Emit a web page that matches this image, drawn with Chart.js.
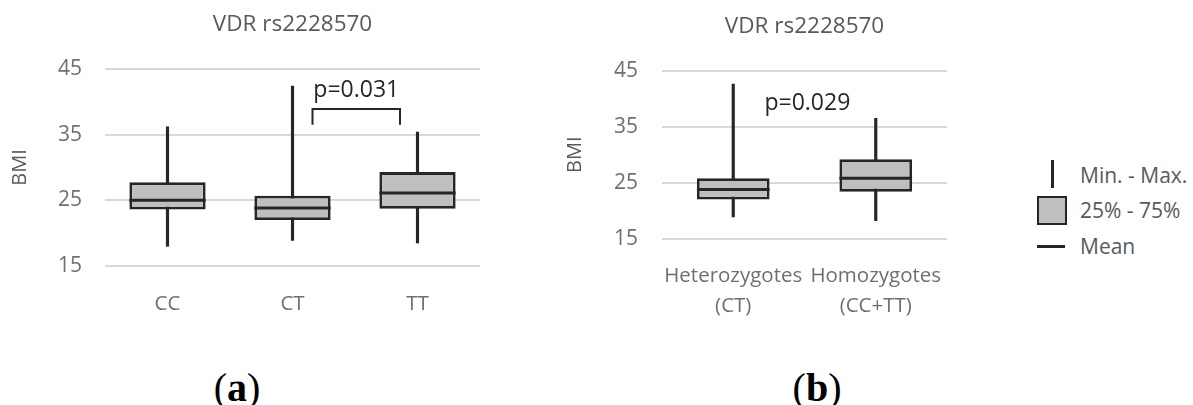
<!DOCTYPE html>
<html>
<head>
<meta charset="utf-8">
<script src="https://cdn.jsdelivr.net/npm/chart.js@4.4.1/dist/chart.umd.min.js"></script>
<style>
    body { margin: 0; background: #fff; width: 1193px; height: 405px; position: relative; overflow: hidden; font-family: "Open Sans", sans-serif; }
    canvas { position: absolute; top: 0; }
    #chartA { left: 0; }
    #chartB { left: 540px; }
    .leg-text { position: absolute; left: 1080px; font-size: 21px; line-height: 26px; color: #595959; white-space: nowrap; }
    .leg-mark { position: absolute; background: #262626; }
    .leg-box { position: absolute; box-sizing: border-box; border: 2.5px solid #262626; background: #bfbfbf; }
    .panel-label { position: absolute; width: 100px; text-align: center; font-family: "Liberation Serif", "DejaVu Serif", serif; font-size: 40px; line-height: 44px; color: #000; }
</style>
</head>
<body>
<canvas id="chartA" width="500" height="320"></canvas>
<canvas id="chartB" width="430" height="320"></canvas>

<div class="leg-mark" style="left:1051px; top:160px; width:2.5px; height:28px;"></div>
<div class="leg-text" style="top:162px;">Min. - Max.</div>
<div class="leg-box" style="left:1037px; top:196px; width:30px; height:29px;"></div>
<div class="leg-text" style="top:197px;">25% - 75%</div>
<div class="leg-mark" style="left:1037px; top:245px; width:28px; height:3px;"></div>
<div class="leg-text" style="top:233px;">Mean</div>

<div class="panel-label" style="left:187px; top:366px;">(<b>a</b>)</div>
<div class="panel-label" style="left:767px; top:366px;">(<b>b</b>)</div>

<script>
// panel (a): genotypes
const catsA = ['CC', 'CT', 'TT'];
const minA = [18.0, 18.9, 18.5];
const q1A  = [23.6, 22.0, 23.7];
const medA = [25.0, 23.85, 26.1];
const q3A  = [27.75, 25.7, 29.3];
const maxA = [36.2, 42.4, 35.4];

// panel (b): hetero vs homo
const catsB = [['Heterozygotes', '(CT)'], ['Homozygotes', '(CC+TT)']];
const minB = [18.9, 18.2];
const q1B  = [22.0, 23.4];
const medB = [23.8, 25.8];
const q3B  = [25.8, 29.2];
const maxB = [42.6, 36.5];

const yTicks = [15, 25, 35, 45];
const chartTitle = 'VDR rs2228570';

// significance notes (category index, BMI value)
const noteA = { text: 'p=0.031', x: 1.51, y: 41.8, bracket: { from: 1.16, to: 1.86, top: 38.9, foot: 36.5 } };
const noteB = { text: 'p=0.029', x: 0.52, y: 39.2 };

const FONT = '"Open Sans", sans-serif';
const DARK = '#262626';

// position between categories (fractional index)
function xAt(scale, v) {
    const i = Math.floor(v);
    const a = scale.getPixelForValue(i);
    const b = scale.getPixelForValue(i + 1);
    return a + (b - a) * (v - i);
}

const boxExtras = {
    id: 'boxExtras',
    afterDatasetsDraw(chart, args, opts) {
        const ctx = chart.ctx;
        const x = chart.scales.x, y = chart.scales.y;
        const boxes = chart.getDatasetMeta(0).data;
        ctx.save();
        // median lines
        ctx.strokeStyle = DARK;
        ctx.lineWidth = 3;
        opts.median.forEach((m, i) => {
            const bar = boxes[i];
            const py = y.getPixelForValue(m);
            ctx.beginPath();
            ctx.moveTo(bar.x - bar.width / 2, py);
            ctx.lineTo(bar.x + bar.width / 2, py);
            ctx.stroke();
        });
        // p-value note
        const n = opts.note;
        if (n) {
            if (n.bracket) {
                const b = n.bracket;
                ctx.lineWidth = 2;
                ctx.beginPath();
                ctx.moveTo(xAt(x, b.from), y.getPixelForValue(b.foot));
                ctx.lineTo(xAt(x, b.from), y.getPixelForValue(b.top));
                ctx.lineTo(xAt(x, b.to), y.getPixelForValue(b.top));
                ctx.lineTo(xAt(x, b.to), y.getPixelForValue(b.foot));
                ctx.stroke();
            }
            ctx.fillStyle = DARK;
            ctx.font = '23px ' + FONT;
            ctx.textAlign = 'center';
            ctx.textBaseline = 'middle';
            ctx.fillText(n.text, xAt(x, n.x), y.getPixelForValue(n.y));
        }
        ctx.restore();
    }
};

function makeBoxChart(id, cfg) {
    const q = cfg.q1.map((v, i) => [v, cfg.q3[i]]);
    const w = cfg.min.map((v, i) => [v, cfg.max[i]]);
    return new Chart(document.getElementById(id), {
        type: 'bar',
        data: {
            labels: cfg.labels,
            datasets: [
                {
                    label: '25% - 75%',
                    data: q,
                    backgroundColor: '#bfbfbf',
                    borderColor: DARK,
                    borderWidth: 2.8,
                    borderSkipped: false,
                    grouped: false,
                    barPercentage: cfg.boxPct,
                    categoryPercentage: 1
                },
                {
                    label: 'Min. - Max.',
                    data: w,
                    backgroundColor: DARK,
                    borderWidth: 0,
                    grouped: false,
                    barThickness: 2.5
                }
            ]
        },
        options: {
            responsive: false,
            animation: false,
            layout: { padding: { left: 0, right: cfg.padRight, top: 0, bottom: 0 } },
            plugins: {
                legend: { display: false },
                tooltip: { enabled: false },
                title: {
                    display: true,
                    text: chartTitle,
                    color: '#595959',
                    fullSize: false,
                    font: { family: FONT, size: 22.5, weight: 'normal' },
                    padding: { top: cfg.titleTop, bottom: cfg.titleBottom }
                },
                boxExtras: { median: cfg.median, note: cfg.note }
            },
            scales: {
                x: {
                    grid: { display: false },
                    border: { display: false },
                    ticks: {
                        color: '#6f6f6f',
                        autoSkip: false,
                        maxRotation: 0,
                        padding: cfg.xPad,
                        font: { family: FONT, size: 20.5, lineHeight: cfg.xLine }
                    },
                    afterFit: s => { s.height = cfg.xHeight; }
                },
                y: {
                    min: 15,
                    max: 45,
                    afterBuildTicks: s => { s.ticks = yTicks.map(v => ({ value: v })); },
                    grid: { color: '#d9d9d9', lineWidth: 2, drawTicks: false },
                    border: { display: false },
                    ticks: { color: '#6f6f6f', padding: cfg.yPad, font: { family: FONT, size: 21 } },
                    title: {
                        display: true,
                        text: 'BMI',
                        color: '#595959',
                        font: { family: FONT, size: 20 },
                        padding: { top: cfg.bmiPad, bottom: 0 }
                    },
                    afterFit: s => { s.width = cfg.yWidth; }
                }
            }
        },
        plugins: [boxExtras]
    });
}

makeBoxChart('chartA', {
    labels: catsA, min: minA, q1: q1A, median: medA, q3: q3A, max: maxA,
    note: noteA, boxPct: 0.61, padRight: 20,
    titleTop: 11.5, titleBottom: 30.5,
    xPad: 18.2, xLine: 1.2, xHeight: 54,
    yPad: 23, yWidth: 105, bmiPad: 8
});

makeBoxChart('chartB', {
    labels: catsB, min: minB, q1: q1B, median: medB, q3: q3B, max: maxB,
    note: noteB, boxPct: 0.51, padRight: 23,
    titleTop: 13.5, titleBottom: 30.2,
    xPad: 14.3, xLine: 1.463, xHeight: 81.3,
    yPad: 24, yWidth: 122, bmiPad: 23
});
</script>
</body>
</html>
